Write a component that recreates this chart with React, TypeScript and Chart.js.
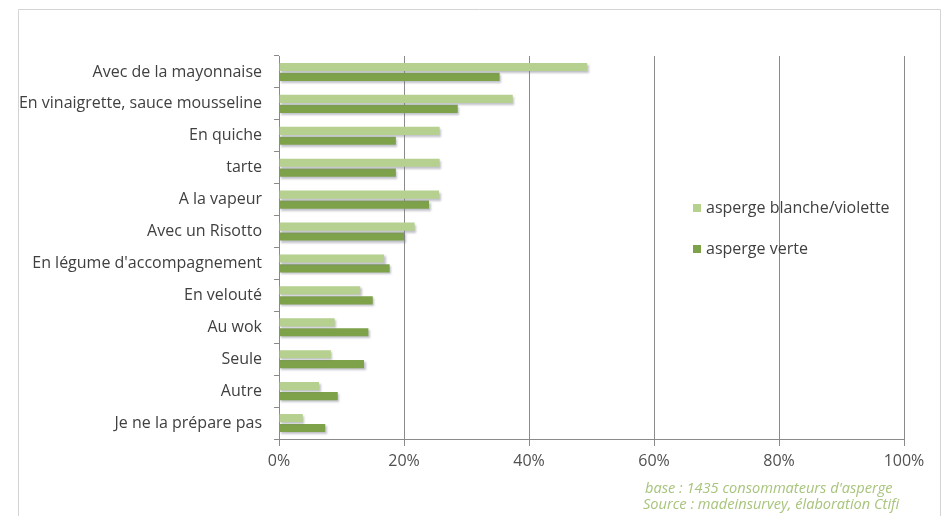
import React, { useEffect, useRef } from "react";
import { Chart, registerables } from "chart.js";

Chart.register(...registerables);

const categories = [
  "Avec de la mayonnaise",
  "En vinaigrette, sauce mousseline",
  "En quiche",
  "tarte",
  "A la vapeur",
  "Avec un Risotto",
  "En légume d'accompagnement",
  "En velouté",
  "Au wok",
  "Seule",
  "Autre",
  "Je ne la prépare pas",
];
const blanche = [49.3, 37.4, 25.7, 25.7, 25.6, 21.7, 16.8, 13.0, 8.9, 8.3, 6.4, 3.8];
const verte = [35.3, 28.6, 18.7, 18.7, 24.0, 20.0, 17.7, 15.0, 14.3, 13.6, 9.4, 7.4];
const seriesNames = ["asperge blanche/violette", "asperge verte"];
const xTicks = [0, 20, 40, 60, 80, 100];
const footerLines = ["base : 1435 consommateurs d'asperge", "Source : madeinsurvey, élaboration Ctifi"];

const LIGHT = "#b6d08f";
const DARK = "#7ea24a";
const FONT = "'Open Sans', Lato, sans-serif";

const extrasPlugin = {
  id: "extras",
  beforeDraw(chart: any) {
    const ctx = chart.ctx;
    ctx.save();
    ctx.fillStyle = "#ffffff";
    ctx.fillRect(0, 0, chart.width, chart.height);
    ctx.strokeStyle = "#d4d4d4";
    ctx.lineWidth = 1;
    ctx.beginPath();
    ctx.moveTo(18.5, chart.height + 2);
    ctx.lineTo(18.5, 9.5);
    ctx.lineTo(940.5, 9.5);
    ctx.lineTo(940.5, chart.height + 2);
    ctx.stroke();
    ctx.restore();
  },
  beforeDatasetsDraw(chart: any) {
    const ctx = chart.ctx;
    ctx.save();
    ctx.shadowColor = "rgba(120,120,140,0.45)";
    ctx.shadowOffsetX = 1.5;
    ctx.shadowOffsetY = 2;
    ctx.shadowBlur = 2;
  },
  afterDatasetsDraw(chart: any) {
    chart.ctx.restore();
  },
  afterDraw(chart: any) {
    const ctx = chart.ctx;
    ctx.save();
    const lx = 693;
    const ly = [208, 249];
    ctx.font = `16px ${FONT}`;
    ctx.textBaseline = "middle";
    ctx.textAlign = "left";
    chart.data.datasets.forEach((ds: any, i: number) => {
      ctx.fillStyle = ds.backgroundColor;
      ctx.fillRect(lx, ly[i] - 4, 8, 8);
      ctx.fillStyle = "#404040";
      ctx.fillText(ds.label, lx + 13, ly[i]);
    });
    ctx.font = `italic 14.6px ${FONT}`;
    ctx.fillStyle = "#a8c47c";
    ctx.textAlign = "left";
    ctx.fillText(footerLines[0], 645, 489);
    ctx.fillText(footerLines[1], 643, 505);
    ctx.restore();
  },
};

export default function App() {
  const ref = useRef<HTMLCanvasElement>(null);
  useEffect(() => {
    document.body.style.margin = "0";
    const chart = new Chart(ref.current!, {
      type: "bar",
      data: {
        labels: categories,
        datasets: [
          { label: seriesNames[0], data: blanche, backgroundColor: LIGHT, categoryPercentage: 0.62, barPercentage: 0.82 },
          { label: seriesNames[1], data: verte, backgroundColor: DARK, categoryPercentage: 0.62, barPercentage: 0.82 },
        ],
      },
      options: {
        indexAxis: "y",
        responsive: false,
        animation: false,
        layout: { padding: { top: 56, right: 40, bottom: 0, left: 0 } },
        plugins: { legend: { display: false }, tooltip: { enabled: false } },
        scales: {
          x: {
            min: 0,
            max: 100,
            afterBuildTicks(scale: any) {
              scale.ticks = xTicks.map((v) => ({ value: v }));
            },
            afterFit(scale: any) {
              scale.height = 77;
            },
            grid: { color: "#8a8a8a", lineWidth: 1, tickLength: 7, drawTicks: true },
            border: { color: "#8a8a8a" },
            ticks: {
              color: "#505050",
              font: { family: FONT, size: 16 },
              padding: 6,
              callback: (v: any) => v + "%",
            },
          },
          y: {
            afterFit(scale: any) {
              scale.width = 279;
            },
            grid: { drawOnChartArea: false, drawTicks: true, tickLength: 5, color: "#8a8a8a", offset: true },
            border: { color: "#8a8a8a" },
            ticks: {
              color: "#404040",
              font: { family: FONT, size: 16 },
              padding: 12,
              autoSkip: false,
            },
          },
        },
      },
      plugins: [extrasPlugin],
    });
    return () => chart.destroy();
  }, []);
  return <canvas ref={ref} width={944} height={516} style={{ display: "block" }} />;
}
